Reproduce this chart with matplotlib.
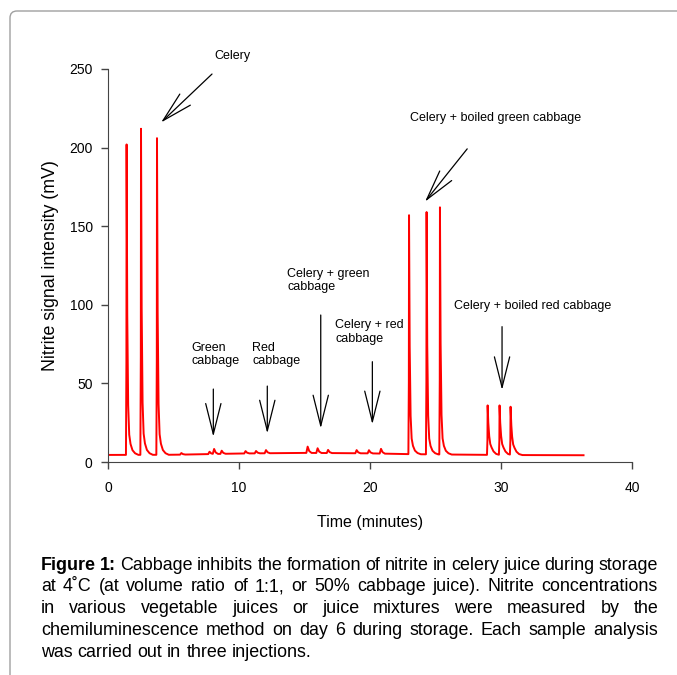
import numpy as np
import matplotlib.pyplot as plt
from matplotlib.patches import FancyBboxPatch
from matplotlib.transforms import IdentityTransform

plt.rcParams['font.family'] = ['Liberation Sans', 'DejaVu Sans']

W, H = 677, 675

# baseline of the trace (min, mV)
base_t = [0, 5, 10, 15, 20, 23, 28, 32, 36.3]
base_mv = [4.5, 4.6, 5.4, 5.8, 5.5, 5.0, 4.6, 4.4, 4.3]

# injections: time of peak top (min) and height (mV)
peak_t = [1.42, 2.52, 3.74, 22.98, 24.32, 25.34, 28.98, 29.89, 30.73]
peak_h = [202, 212, 206, 157, 159, 162, 36, 36, 35]

# small bumps on the baseline (min, mV above baseline)
bump_t = [5.6, 7.75, 8.1, 8.68, 10.5, 11.3, 12.06, 15.24, 16.0, 16.8, 18.98, 19.92, 20.84]
bump_h = [1.0, 1.5, 3.2, 2.0, 1.5, 1.5, 2.0, 4.0, 3.0, 2.0, 2.0, 2.0, 3.0]

# peak shapes: offset from top (min), fraction of height
tall_dt = [-0.05, -0.015, 0.0, 0.05, 0.12, 0.2, 0.3, 0.45, 0.65, 0.9]
tall_frac = [0, 0.3, 1.0, 0.45, 0.16, 0.065, 0.035, 0.015, 0.005, 0]
short_dt = [-0.05, -0.015, 0.0, 0.05, 0.12, 0.2, 0.3, 0.45, 0.65, 0.9]
short_frac = [0, 0.3, 1.0, 0.65, 0.38, 0.22, 0.15, 0.07, 0.02, 0]
bump_dt = [-0.1, 0.0, 0.12, 0.3]
bump_frac = [0, 1.0, 0.3, 0]

# annotations: label, label position (min, mV), alignment, arrow tail, arrow tip
labels = ["Celery", "Green\ncabbage", "Red\ncabbage", "Celery + green\ncabbage",
          "Celery + red\ncabbage", "Celery + boiled green cabbage",
          "Celery + boiled red cabbage"]
label_xy = [(9.47, 258), (6.34, 68.4), (11.0, 68.4), (13.69, 115.5),
            (17.33, 82.7), (29.6, 219), (32.4, 99.5)]
label_ha = ['center', 'left', 'left', 'left', 'left', 'center', 'center']
arrow_tail = [(7.94, 246.8), (8.04, 46.4), (12.16, 48.3), (16.24, 93.5),
              (20.18, 63.8), (27.42, 199.2), (30.08, 86.1)]
arrow_tip = [(4.05, 216), (8.04, 16.1), (12.16, 18.2), (16.24, 21.4),
             (20.18, 24.0), (24.2, 165.6), (30.08, 45.8)]

caption_lines = [
    "Figure 1: Cabbage inhibits the formation of nitrite in celery juice during storage",
    "at 4\u02daC (at volume ratio of 1:1, or 50% cabbage juice). Nitrite concentrations",
    "in various vegetable juices or juice mixtures were measured by the",
    "chemiluminescence method on day 6 during storage. Each sample analysis",
    "was carried out in three injections.",
]

# build the trace
pts = list(base_t)
for tp in peak_t:
    pts += [tp + d for d in tall_dt]
for tp in bump_t:
    pts += [tp + d for d in bump_dt]
t = np.unique(np.clip(pts, 0, base_t[-1]))
base = np.interp(t, base_t, base_mv)
y = base.copy()
for tp, hp in zip(peak_t, peak_h):
    b = np.interp(tp, base_t, base_mv)
    if hp > 100:
        y += np.interp(t, np.add(tp, tall_dt), tall_frac, left=0, right=0) * (hp - b)
    else:
        y += np.interp(t, np.add(tp, short_dt), short_frac, left=0, right=0) * (hp - b)
for tp, hp in zip(bump_t, bump_h):
    y += np.interp(t, np.add(tp, bump_dt), bump_frac, left=0, right=0) * hp

fig = plt.figure(figsize=(W / 100, H / 100), dpi=100)

# rounded frame
frame = FancyBboxPatch((10, -40), 720, H - 11 + 40, boxstyle="round,pad=0,rounding_size=7",
                       transform=IdentityTransform(), fill=False, edgecolor='#a0a0a0', lw=1)
fig.add_artist(frame)

ax = fig.add_axes([108 / W, 1 - 462 / H, (632 - 108) / W, (462 - 69) / H])
ax.plot(t, y, color='#ff0000', lw=1.4)

ax.set_xlim(0, 40)
ax.set_ylim(0, 250)
ax.set_xticks(range(0, 41, 10))
ax.set_yticks(range(0, 251, 50))
for s in ['top', 'right']:
    ax.spines[s].set_visible(False)
for s in ['left', 'bottom']:
    ax.spines[s].set_color('#444444')
ax.tick_params(direction='out', length=5, width=1, color='#444444', labelsize=10)
ax.tick_params(axis='x', pad=9)
ax.tick_params(axis='y', pad=6)
ax.set_xlabel("Time (minutes)", fontsize=11.5, labelpad=14)
ax.set_ylabel("Nitrite signal intensity (mV)", fontsize=12.8, labelpad=7.5)

for lab, xy, ha, tail, tip in zip(labels, label_xy, label_ha, arrow_tail, arrow_tip):
    ax.text(xy[0], xy[1], lab, fontsize=9, ha=ha, va='center', linespacing=1.2)
    ax.annotate('', xy=tip, xytext=tail, annotation_clip=False,
                arrowprops=dict(arrowstyle='->,head_length=2.2,head_width=0.55',
                                mutation_scale=10, lw=0.9, color='black',
                                shrinkA=0, shrinkB=0))

# justified caption
fs = 12.9
renderer = fig.canvas.get_renderer()
left, right = 41, 658
space = 0.278 * fs * 100 / 72
for i, line in enumerate(caption_lines):
    words = line.split(' ')
    texts = []
    for j, w in enumerate(words):
        bold = (i == 0 and j < 2)
        texts.append(fig.text(0, 0, w, fontsize=fs, fontweight='bold' if bold else 'normal',
                              va='baseline', color='black'))
    widths = [tx.get_window_extent(renderer).width for tx in texts]
    if i < len(caption_lines) - 1:
        gap = (right - left - sum(widths)) / (len(words) - 1)
    else:
        gap = space
    x = left
    yb = 569.5 + i * 21.9
    for tx, wd in zip(texts, widths):
        tx.set_position((x / W, 1 - yb / H))
        x += wd + gap

fig.savefig("out.png", dpi=100)
